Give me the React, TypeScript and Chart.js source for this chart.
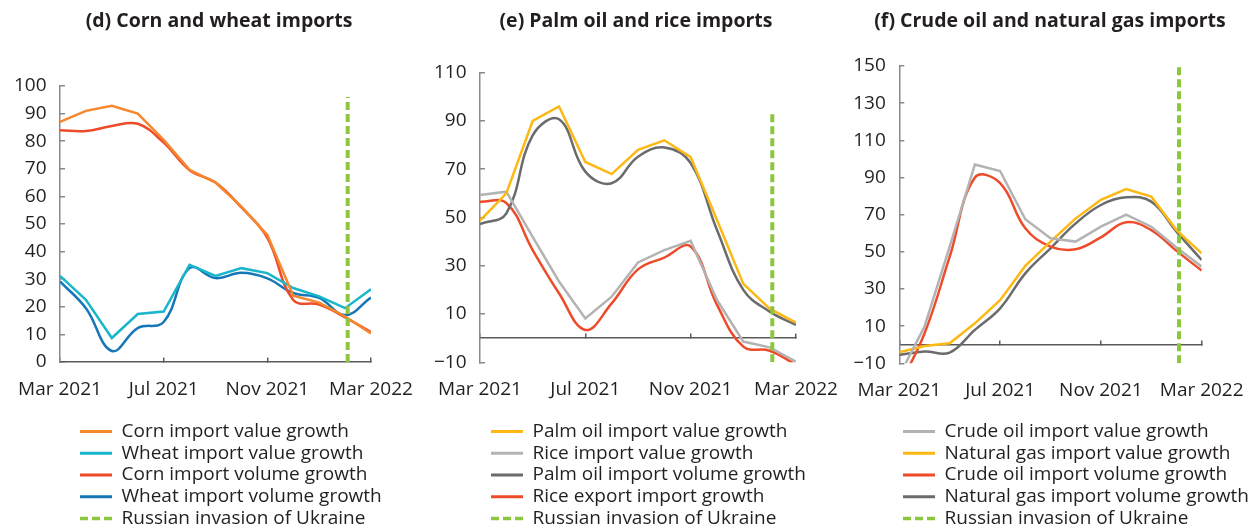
import React, { useEffect, useRef } from "react";
import { Chart, registerables } from "chart.js";

Chart.register(...registerables);

// ---------- data ----------
const months = [
  "Mar 2021", "Apr 2021", "May 2021", "Jun 2021", "Jul 2021", "Aug 2021",
  "Sep 2021", "Oct 2021", "Nov 2021", "Dec 2021", "Jan 2022", "Feb 2022", "Mar 2022",
];
const tickMonths = ["Mar 2021", "Jul 2021", "Nov 2021", "Mar 2022"];
const invasionX = 11.1;
const invasionLabel = "Russian invasion of Ukraine";

// (d) Corn and wheat imports
const cornValue = [87, 91, 92.8, 90, 80.5, 69.6, 65, 56.3, 46, 24, 21.5, 16.5, 10.3];
const wheatValue = [31.2, 22.5, 8.7, 17.4, 18.3, 35.2, 31.2, 34, 32.2, 26.8, 23.8, 19.5, 26.4];
const cornVolume = [84, 83.7, 85.5, 86.3, 79.5, 69.5, 65, 56, 45, 22.5, 20.8, 16.2, 10.8];
const wheatVolume = [29.2, 19.5, 4, 12.3, 14.5, 34, 30.4, 32.3, 30.3, 25, 23.2, 17, 23.4];
const invasionD = [0, 96];

// (e) Palm oil and rice imports
const palmValue = [48.7, 60, 90, 96, 73, 68, 78, 82, 75, 49, 22.5, 12.2, 6.4];
const riceValue = [59.3, 60.7, 42, 23.5, 8.2, 17.2, 31.4, 36.5, 40.3, 15.8, -1.4, -3.8, -9.7];
const palmVolume = [47.3, 51.7, 84, 90.7, 69, 64.2, 75.2, 79, 72.5, 44.8, 20, 11, 5.5];
const riceExport = [56.5, 56, 36.5, 18.6, 3.4, 14.4, 28.5, 33.4, 38, 13.8, -3.5, -5.2, -11];
const invasionE = [-10, 94];

// (f) Crude oil and natural gas imports
const crudeValue = [-16.6, 9.7, 52.8, 97, 93.5, 67.5, 57.3, 55.5, 63.5, 70, 63.5, 52.3, 42];
const gasValue = [-4.1, -0.7, 0.8, 11.5, 24, 42.4, 55.5, 68, 78, 83.8, 79.7, 61.7, 49.2];
const crudeVolume = [-22, 6, 47.4, 90, 87, 62.7, 52.8, 51.4, 57.8, 65.9, 61.7, 50.5, 39.9];
const gasVolume = [-5.5, -3.7, -4.2, 8, 19.6, 38.4, 51.9, 65.3, 75.2, 79.3, 77, 60.9, 45.6];
const invasionF = [-10, 150];

// ---------- styles ----------
const FONT = "'Open Sans'";
const TEXT = "#231f20";
const AXIS_X = "#5a5a5a";
const AXIS_Y = "#8a8a8a";
const GREEN = "#8cc63e";
const ORANGE = "#f7872d";
const CYAN = "#19b6cb";
const RED = "#ee4b2b";
const BLUE = "#1577b8";
const GOLD = "#fdb813";
const LGRAY = "#b3b3b3";
const DGRAY = "#6a6b6d";

const H = 527;
const YAXIS_W = 45;
const XAXIS_H = 40;
const TICK_SIZE = 19;
const LEGEND_SIZE = 19;
const TITLE_SIZE = 19.5;

type Series = { label: string; data: number[]; color: string; smooth: boolean };
type PanelCfg = {
  title: string;
  titleCenter: number;
  left: number;
  width: number;
  padLeft: number;
  padRight: number;
  chartTop: number;
  chartBottom: number;
  yMin: number;
  yMax: number;
  yStep: number;
  series: Series[];
  invasion: number[];
  legendX: number;
  legendY: number;
};

const panels: PanelCfg[] = [
  {
    title: "(d) Corn and wheat imports",
    titleCenter: 219,
    left: 0, width: 420, padLeft: 15, padRight: 49,
    chartTop: 86, chartBottom: 362,
    yMin: 0, yMax: 100, yStep: 10,
    series: [
      { label: "Corn import value growth", data: cornValue, color: ORANGE, smooth: false },
      { label: "Wheat import value growth", data: wheatValue, color: CYAN, smooth: false },
      { label: "Corn import volume growth", data: cornVolume, color: RED, smooth: true },
      { label: "Wheat import volume growth", data: wheatVolume, color: BLUE, smooth: true },
    ],
    invasion: invasionD,
    legendX: 80, legendY: 422,
  },
  {
    title: "(e) Palm oil and rice imports",
    titleCenter: 216,
    left: 420, width: 425, padLeft: 15, padRight: 49,
    chartTop: 72.7, chartBottom: 362.3,
    yMin: -10, yMax: 110, yStep: 20,
    series: [
      { label: "Palm oil import value growth", data: palmValue, color: GOLD, smooth: false },
      { label: "Rice import value growth", data: riceValue, color: LGRAY, smooth: false },
      { label: "Palm oil import volume growth", data: palmVolume, color: DGRAY, smooth: true },
      { label: "Rice export import growth", data: riceExport, color: RED, smooth: true },
    ],
    invasion: invasionE,
    legendX: 71, legendY: 422,
  },
  {
    title: "(f) Crude oil and natural gas imports",
    titleCenter: 210,
    left: 840, width: 419, padLeft: 14.3, padRight: 57.3,
    chartTop: 66, chartBottom: 363.3,
    yMin: -10, yMax: 150, yStep: 20,
    series: [
      { label: "Crude oil import value growth", data: crudeValue, color: LGRAY, smooth: false },
      { label: "Natural gas import value growth", data: gasValue, color: GOLD, smooth: false },
      { label: "Crude oil import volume growth", data: crudeVolume, color: RED, smooth: true },
      { label: "Natural gas import volume growth", data: gasVolume, color: DGRAY, smooth: true },
    ],
    invasion: invasionF,
    legendX: 63, legendY: 422,
  },
];

// moves the (chartArea-positioned) legend below the axis labels and centres the title
const placeBoxes = {
  id: "placeBoxes",
  afterLayout(chart: any, _args: any, opts: any) {
    const lg = chart.legend;
    if (lg) {
      const pad = lg.options.labels.padding;
      lg.left = opts.x - pad;
      lg.top = opts.y - pad;
      lg.width = 420;
      lg.height = 160;
      lg.right = lg.left + lg.width;
      lg.bottom = lg.top + lg.height;
    }
    const tb = chart.titleBlock;
    if (tb) {
      tb.left = opts.titleCenter - 205;
      tb.right = opts.titleCenter + 205;
      tb.width = 410;
    }
  },
};

function buildDatasets(p: PanelCfg) {
  const ds: any[] = p.series.map((s) => ({
    label: s.label,
    data: s.data.map((v, i) => ({ x: i, y: v })),
    borderColor: s.color,
    backgroundColor: s.color,
    borderWidth: 2.5,
    pointRadius: 0,
    pointHoverRadius: 0,
    tension: s.smooth ? 0.4 : 0,
    fill: false,
    order: 1,
  }));
  ds.push({
    label: invasionLabel,
    data: p.invasion.map((v) => ({ x: invasionX, y: v })),
    borderColor: GREEN,
    backgroundColor: GREEN,
    borderWidth: 4,
    borderDash: [8, 4],
    pointRadius: 0,
    pointHoverRadius: 0,
    tension: 0,
    fill: false,
    order: 0,
  });
  return ds;
}

function Panel({ p }: { p: PanelCfg }) {
  const ref = useRef<HTMLCanvasElement>(null);
  useEffect(() => {
    const titleLH = TITLE_SIZE * 1.2;
    const titleTop = 21 - titleLH / 2;
    const chart = new Chart(ref.current as HTMLCanvasElement, {
      type: "line",
      data: { datasets: buildDatasets(p) },
      plugins: [placeBoxes],
      options: {
        animation: false,
        responsive: false,
        devicePixelRatio: 1,
        events: [],
        layout: {
          padding: {
            left: p.padLeft,
            right: p.padRight,
            top: 0,
            bottom: H - XAXIS_H - p.chartBottom,
          },
        },
        scales: {
          x: {
            type: "linear",
            position: "bottom",
            min: 0,
            max: 12,
            grid: { display: false, drawTicks: true, tickLength: 16 },
            border: { display: false },
            ticks: {
              stepSize: 4,
              autoSkip: false,
              maxRotation: 0,
              padding: 0,
              color: TEXT,
              font: { family: FONT, size: TICK_SIZE },
              callback: (v: any) => {
                const m = months[Number(v)];
                return tickMonths.includes(m) ? m : "";
              },
            },
            afterFit: (s: any) => {
              s.height = XAXIS_H;
            },
          },
          xline: {
            type: "linear",
            axis: "x",
            position: { y: 0 },
            min: 0,
            max: 12,
            ticks: { stepSize: 4, display: false },
            grid: {
              display: true,
              drawOnChartArea: false,
              drawTicks: true,
              tickLength: -5,
              color: AXIS_X,
              lineWidth: 1.5,
            },
            border: { display: true, color: AXIS_X, width: 1.5 },
          },
          y: {
            type: "linear",
            position: "left",
            min: p.yMin,
            max: p.yMax,
            ticks: {
              stepSize: p.yStep,
              padding: 18.5,
              color: TEXT,
              font: { family: FONT, size: TICK_SIZE },
              callback: (v: any) => String(v).replace("-", "\u2212"),
            },
            grid: {
              display: true,
              drawOnChartArea: false,
              drawTicks: true,
              tickLength: -5,
              color: AXIS_Y,
              lineWidth: 1.5,
            },
            border: { display: true, color: AXIS_Y, width: 1.5 },
            afterFit: (s: any) => {
              s.width = YAXIS_W;
            },
          },
        } as any,
        plugins: {
          title: {
            display: true,
            text: p.title,
            fullSize: false,
            color: TEXT,
            font: { family: FONT, size: TITLE_SIZE, weight: "bold" },
            padding: { top: titleTop, bottom: p.chartTop - titleTop - titleLH },
          },
          legend: {
            display: true,
            position: "chartArea",
            align: "start",
            labels: {
              color: TEXT,
              font: { family: FONT, size: LEGEND_SIZE },
              padding: 2.75,
              usePointStyle: true,
              pointStyle: "line",
              pointStyleWidth: 32,
              sort: (a: any, b: any) => a.datasetIndex - b.datasetIndex,
              generateLabels: (c: any) => {
                const items = (Chart.defaults.plugins.legend.labels as any).generateLabels(c);
                return items.map((it: any) => {
                  const d: any = c.data.datasets[it.datasetIndex];
                  return {
                    ...it,
                    pointStyle: "line",
                    lineDash: d.borderDash || [],
                    lineWidth: d.borderWidth === 4 ? 3.5 : 3,
                    strokeStyle: d.borderColor,
                    fillStyle: d.borderColor,
                  };
                });
              },
            },
          },
          tooltip: { enabled: false },
          placeBoxes: { x: p.legendX, y: p.legendY, titleCenter: p.titleCenter },
        } as any,
      },
    } as any);
    return () => chart.destroy();
  }, [p]);
  return (
    <div style={{ position: "absolute", left: p.left, top: 0, width: p.width, height: H }}>
      <canvas
        ref={ref}
        width={p.width}
        height={H}
        style={{ width: p.width, height: H, display: "block" }}
      />
    </div>
  );
}

export default function App() {
  return (
    <div
      style={{
        position: "absolute",
        left: 0,
        top: 0,
        width: 1259,
        height: H,
        overflow: "hidden",
        background: "#ffffff",
      }}
    >
      {panels.map((p) => (
        <Panel key={p.title} p={p} />
      ))}
    </div>
  );
}
